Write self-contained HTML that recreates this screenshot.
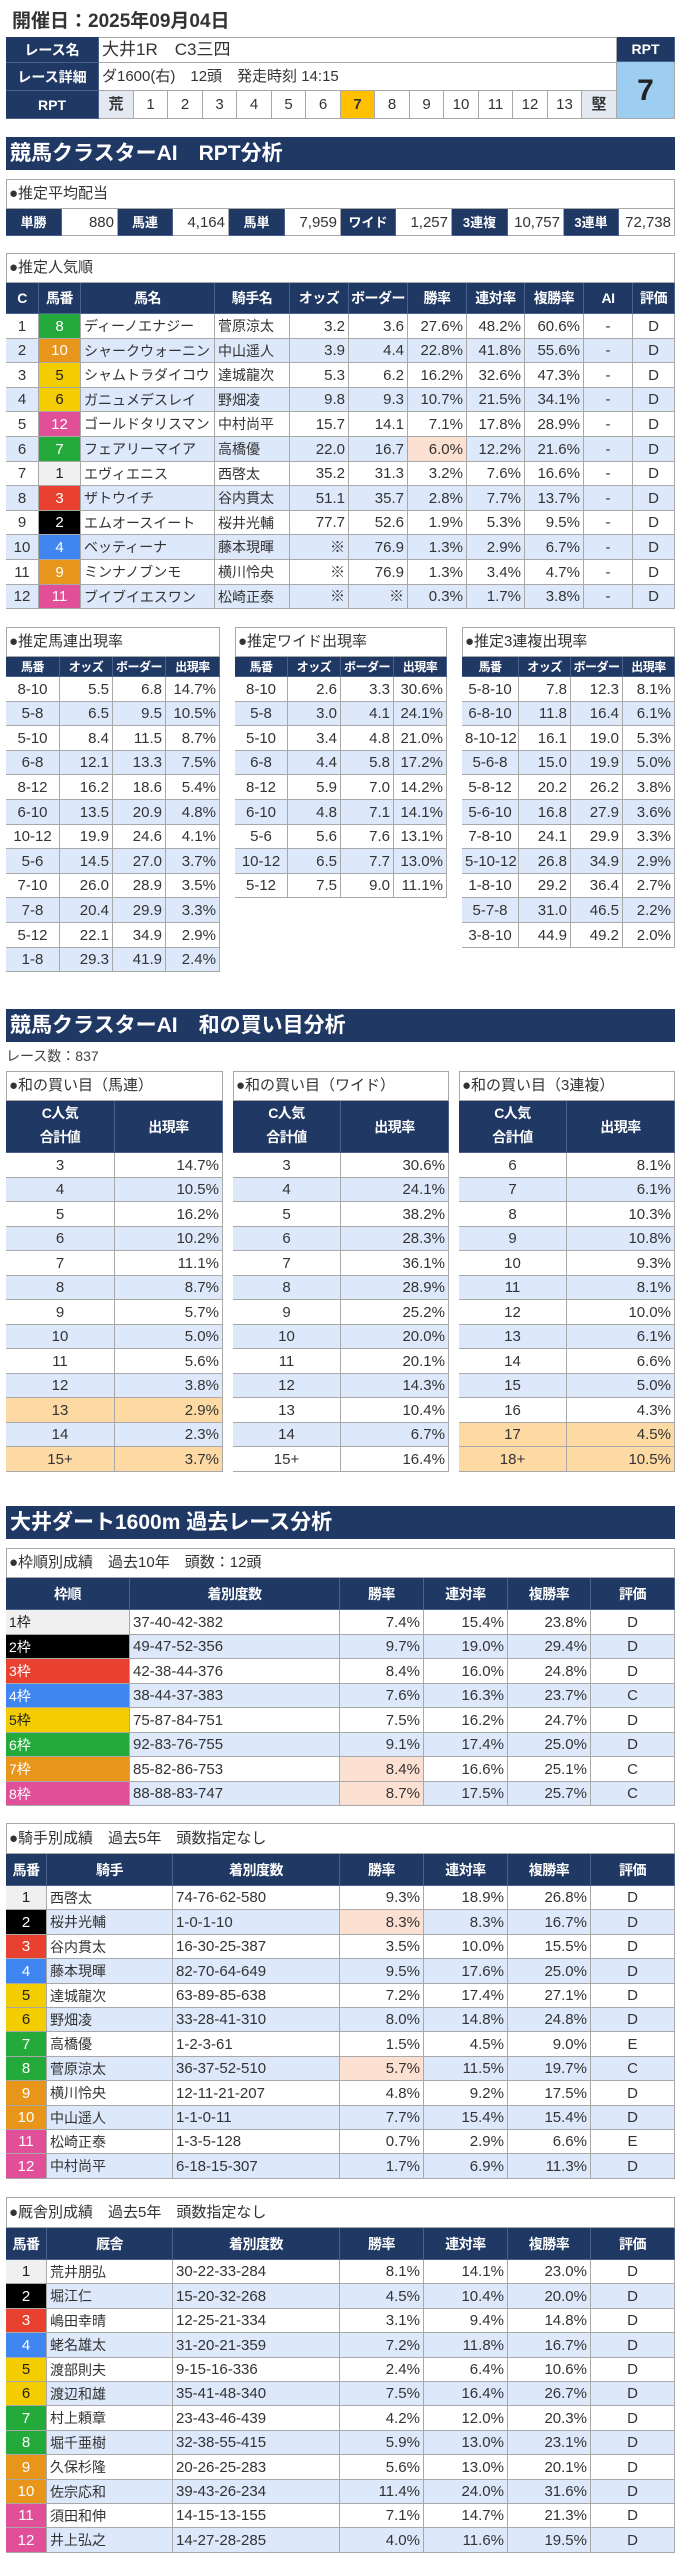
<!DOCTYPE html>
<html><head><meta charset="utf-8">
<style>
html,body{margin:0;padding:0;background:#fff;}
body{width:679px;height:2560px;position:relative;overflow:hidden;font-family:"Liberation Sans","Noto Sans CJK JP",sans-serif;color:#333;}
.c{position:absolute;box-sizing:border-box;border-right:1px solid #a8a8a8;border-bottom:1px solid #a8a8a8;white-space:nowrap;overflow:hidden;padding:0 3px;font-size:15px;}
.bx{position:absolute;box-sizing:border-box;border-left:1px solid #a8a8a8;border-top:1px solid #a8a8a8;}
.bar{position:absolute;left:6px;width:669px;background:#203864;color:#fff;font-weight:bold;font-size:21px;box-sizing:border-box;padding-left:4px;}
</style></head>
<body>
<div style="position:absolute;left:12px;top:6px;font-size:19px;font-weight:bold;color:#333;">開催日：2025年09月04日</div>
<div class="bar" style="top:137px;height:33px;line-height:33px;">競馬クラスターAI　RPT分析</div>
<div class="bar" style="top:1009px;height:33px;line-height:33px;">競馬クラスターAI　和の買い目分析</div>
<div style="position:absolute;left:6px;top:1046px;font-size:14px;color:#444;">レース数：837</div>
<div class="bar" style="top:1506px;height:33px;line-height:33px;">大井ダート1600m 過去レース分析</div>
<script>
var NAVY='#203864',LB='#dde8fb',PE='#fce0d2',OR='#fdd9a3';
var FR={1:['#f0f0f0','#222'],2:['#000','#fff'],3:['#e8412f','#fff'],4:['#3f86f0','#fff'],5:['#f3cd00','#222'],6:['#23aa3b','#fff'],7:['#e8951c','#fff'],8:['#e04f97','#fff']};
var H2F={1:1,2:2,3:3,4:4,5:5,6:5,7:6,8:6,9:7,10:7,11:8,12:8};
var root=document.body;
function cell(x,y,w,h,t,o,name){
  o=o||{};
  var d=document.createElement('div');
  d.className='c';
  
  
  d.style.left=x+'px';d.style.top=y+'px';d.style.width=w+'px';d.style.height=h+'px';
  d.style.lineHeight=(o.lh||h)+'px';
  d.style.textAlign=o.al||'center';
  if(o.bg)d.style.background=o.bg;
  if(o.c)d.style.color=o.c;
  if(o.fs)d.style.fontSize=o.fs+'px';
  if(o.b)d.style.fontWeight='bold';
  if(o.bc)d.style.borderColor=o.bc;
  if(o.np){d.style.padding='0';d.style.letterSpacing='-0.5px';}
  if(o.wrap){d.style.whiteSpace='normal';}
  d.innerHTML=t;
  root.appendChild(d);return d;
}
function box(x,y,w,h,name){
  var d=document.createElement('div');
  d.className='bx';
  
  
  d.style.left=x+'px';d.style.top=y+'px';d.style.width=w+'px';d.style.height=h+'px';
  root.appendChild(d);
}
function titleRow(x0,x1,y,h,t,name){box(x0,y,x1-x0,h,name+'-box');cell(x0,y,x1-x0,h,t,{al:'left',fs:15},name);}
function header(cols,y,h,labels,fs,name){
  for(var i=0;i<labels.length;i++)cell(cols[i],y,cols[i+1]-cols[i],h,labels[i],{bg:NAVY,c:'#fff',b:1,fs:fs||14,bc:'#4a5f8c',wrap:1,np:1,lh:(labels[i].indexOf('<br>')>=0?h/2-2:h)},name+'-header');
}
box(6,37,669,82,'race-info-table');
cell(6,37,93,26,'レース名',{bg:NAVY,c:'#fff',b:1,fs:14,bc:'#4a5f8c'},'race-name-label');
cell(99,37,518,26,'大井1R　C3三四',{al:'left',fs:17},'race-name');
cell(6,63,93,28,'レース詳細',{bg:NAVY,c:'#fff',b:1,fs:14,bc:'#4a5f8c'},'race-detail-label');
cell(99,63,518,28,'ダ1600(右)　12頭　発走時刻 14:15',{al:'left',fs:15},'race-detail');
cell(6,91,93,28,'RPT',{bg:NAVY,c:'#fff',b:1,fs:14,bc:'#4a5f8c'},'rpt-label');
var scale=['荒','1','2','3','4','5','6','7','8','9','10','11','12','13','堅'];
for(var i=0;i<15;i++){
  var bg=(i==0||i==14)?'#e4e8f0':(i==7?'#ffc000':'#fff');
  cell(Math.round(99+i*34.53),91,Math.round(99+(i+1)*34.53)-Math.round(99+i*34.53),28,scale[i],{bg:bg,fs:15,b:(i==7||i==0||i==14)},'rpt-scale-cell');
}
cell(617,37,58,25,'RPT',{bg:NAVY,c:'#fff',b:1,fs:14,bc:'#4a5f8c'},'rpt-value-label');
cell(617,62,58,57,'7',{bg:'#9dcdf1',c:'#222',b:1,fs:30},'rpt-value');
titleRow(6,675,179,30,'●推定平均配当','avg-payout-title');
var pl=['単勝','馬連','馬単','ワイド','3連複','3連単'],pv=['880','4,164','7,959','1,257','10,757','72,738'];
for(var i=0;i<12;i++){
  var x=Math.round(6+i*55.75),w=Math.round(6+(i+1)*55.75)-x;
  if(i%2==0)cell(x,209,w,27,pl[i/2],{bg:NAVY,c:'#fff',b:1,fs:13,bc:'#4a5f8c'},'payout-label');
  else cell(x,209,w,27,pv[(i-1)/2],{al:'right',fs:15},'payout-value');
}
var pop=[[1,8,'ディーノエナジー','菅原涼太','3.2','3.6','27.6%','48.2%','60.6%'],
[2,10,'シャークウォーニン','中山遥人','3.9','4.4','22.8%','41.8%','55.6%'],
[3,5,'シャムトラダイコウ','達城龍次','5.3','6.2','16.2%','32.6%','47.3%'],
[4,6,'ガニュメデスレイ','野畑凌','9.8','9.3','10.7%','21.5%','34.1%'],
[5,12,'ゴールドタリスマン','中村尚平','15.7','14.1','7.1%','17.8%','28.9%'],
[6,7,'フェアリーマイア','高橋優','22.0','16.7','6.0%','12.2%','21.6%'],
[7,1,'エヴィエニス','西啓太','35.2','31.3','3.2%','7.6%','16.6%'],
[8,3,'ザトウイチ','谷内貫太','51.1','35.7','2.8%','7.7%','13.7%'],
[9,2,'エムオースイート','桜井光輔','77.7','52.6','1.9%','5.3%','9.5%'],
[10,4,'ベッティーナ','藤本現暉','※','76.9','1.3%','2.9%','6.7%'],
[11,9,'ミンナノブンモ','横川怜央','※','76.9','1.3%','3.4%','4.7%'],
[12,11,'ブイブイエスワン','松崎正泰','※','※','0.3%','1.7%','3.8%']];
var pc=[6,39,81,215,290,349,408,467,525,584,633,675];
titleRow(6,675,253,30,'●推定人気順','popularity-title');
box(6,283,669,326,'popularity-table');
header(pc,283,31,['C','馬番','馬名','騎手名','オッズ','ボーダー','勝率','連対率','複勝率','AI','評価'],14,'popularity');
for(var r=0;r<12;r++){
  var y=Math.round(314+r*24.6),h=Math.round(314+(r+1)*24.6)-y,bg=r%2?LB:'#fff',d=pop[r],f=FR[H2F[d[1]]];
  cell(pc[0],y,pc[1]-pc[0],h,d[0],{bg:bg},'popularity-rank');
  cell(pc[1],y,pc[2]-pc[1],h,d[1],{bg:f[0],c:f[1]},'horse-number');
  cell(pc[2],y,pc[3]-pc[2],h,d[2],{bg:bg,al:'left',fs:14},'horse-name');
  cell(pc[3],y,pc[4]-pc[3],h,d[3],{bg:bg,al:'left',fs:14},'jockey-name');
  for(var k=4;k<9;k++)cell(pc[k],y,pc[k+1]-pc[k],h,d[k],{bg:(k==6&&r==5)?PE:bg,al:'right'},'popularity-stat');
  cell(pc[9],y,pc[10]-pc[9],h,'-',{bg:bg},'ai-mark');
  cell(pc[10],y,pc[11]-pc[10],h,'D',{bg:bg},'evaluation');
}
function small(cols,title,data,name){
  titleRow(cols[0],cols[4],627,30,title,name+'-title');
  box(cols[0],657,cols[4]-cols[0],20+data.length*24.6,name+'-table');
  header(cols,657,20,['馬番','オッズ','ボーダー','出現率'],12,name);
  for(var r=0;r<data.length;r++){
    var y=Math.round(677+r*24.6),h=Math.round(677+(r+1)*24.6)-y,bg=r%2?LB:'#fff';
    for(var k=0;k<4;k++)cell(cols[k],y,cols[k+1]-cols[k],h,data[r][k],{bg:bg,al:k?'right':'center',fs:15},name+'-cell');
  }
}
small([6,60,113,166,220],'●推定馬連出現率',[['8-10','5.5','6.8','14.7%'],['5-8','6.5','9.5','10.5%'],['5-10','8.4','11.5','8.7%'],['6-8','12.1','13.3','7.5%'],['8-12','16.2','18.6','5.4%'],['6-10','13.5','20.9','4.8%'],['10-12','19.9','24.6','4.1%'],['5-6','14.5','27.0','3.7%'],['7-10','26.0','28.9','3.5%'],['7-8','20.4','29.9','3.3%'],['5-12','22.1','34.9','2.9%'],['1-8','29.3','41.9','2.4%']],'umaren');
small([235,288,341,394,447],'●推定ワイド出現率',[['8-10','2.6','3.3','30.6%'],['5-8','3.0','4.1','24.1%'],['5-10','3.4','4.8','21.0%'],['6-8','4.4','5.8','17.2%'],['8-12','5.9','7.0','14.2%'],['6-10','4.8','7.1','14.1%'],['5-6','5.6','7.6','13.1%'],['10-12','6.5','7.7','13.0%'],['5-12','7.5','9.0','11.1%']],'wide');
small([462,519,571,623,675],'●推定3連複出現率',[['5-8-10','7.8','12.3','8.1%'],['6-8-10','11.8','16.4','6.1%'],['8-10-12','16.1','19.0','5.3%'],['5-6-8','15.0','19.9','5.0%'],['5-8-12','20.2','26.2','3.8%'],['5-6-10','16.8','27.9','3.6%'],['7-8-10','24.1','29.9','3.3%'],['5-10-12','26.8','34.9','2.9%'],['1-8-10','29.2','36.4','2.7%'],['5-7-8','31.0','46.5','2.2%'],['3-8-10','44.9','49.2','2.0%']],'trio');
function sum(x0,xm,x1,title,data,hl,name){
  titleRow(x0,x1,1071,30,title,name+'-title');
  box(x0,1101,x1-x0,52+13*24.5,name+'-table');
  header([x0,xm,x1],1101,52,['C人気<br>合計値','出現率'],14,name);
  for(var r=0;r<data.length;r++){
    var y=Math.round(1153+r*24.5),h=Math.round(1153+(r+1)*24.5)-y,bg=hl.indexOf(r)>=0?OR:(r%2?LB:'#fff');
    cell(x0,y,xm-x0,h,data[r][0],{bg:bg},name+'-sum');
    cell(xm,y,x1-xm,h,data[r][1],{bg:bg,al:'right'},name+'-rate');
  }
}
sum(6,115,223,'●和の買い目（馬連）',[['3','14.7%'],['4','10.5%'],['5','16.2%'],['6','10.2%'],['7','11.1%'],['8','8.7%'],['9','5.7%'],['10','5.0%'],['11','5.6%'],['12','3.8%'],['13','2.9%'],['14','2.3%'],['15+','3.7%']],[10,12],'sum-umaren');
sum(233,341,449,'●和の買い目（ワイド）',[['3','30.6%'],['4','24.1%'],['5','38.2%'],['6','28.3%'],['7','36.1%'],['8','28.9%'],['9','25.2%'],['10','20.0%'],['11','20.1%'],['12','14.3%'],['13','10.4%'],['14','6.7%'],['15+','16.4%']],[],'sum-wide');
sum(459,567,675,'●和の買い目（3連複）',[['6','8.1%'],['7','6.1%'],['8','10.3%'],['9','10.8%'],['10','9.3%'],['11','8.1%'],['12','10.0%'],['13','6.1%'],['14','6.6%'],['15','5.0%'],['16','4.3%'],['17','4.5%'],['18+','10.5%']],[11,12],'sum-trio');
var fc=[6,130,340,424,508,591,675];
titleRow(6,675,1548,30,'●枠順別成績　過去10年　頭数：12頭','frame-title');
var fd=[['37-40-42-382','7.4%','15.4%','23.8%','D'],['49-47-52-356','9.7%','19.0%','29.4%','D'],['42-38-44-376','8.4%','16.0%','24.8%','D'],['38-44-37-383','7.6%','16.3%','23.7%','C'],['75-87-84-751','7.5%','16.2%','24.7%','D'],['92-83-76-755','9.1%','17.4%','25.0%','D'],['85-82-86-753','8.4%','16.6%','25.1%','C'],['88-88-83-747','8.7%','17.5%','25.7%','C']];
box(6,1578,669,32+8*24.5,'frame-table');
header(fc,1578,32,['枠順','着別度数','勝率','連対率','複勝率','評価'],14,'frame');
for(var r=0;r<8;r++){
  var y=Math.round(1610+r*24.5),h=Math.round(1610+(r+1)*24.5)-y,bg=r%2?LB:'#fff',f=FR[r+1];
  cell(fc[0],y,fc[1]-fc[0],h,(r+1)+'枠',{bg:f[0],c:f[1],al:'left',fs:14},'frame-label');
  cell(fc[1],y,fc[2]-fc[1],h,fd[r][0],{bg:bg,al:'left'},'frame-record');
  for(var k=1;k<4;k++)cell(fc[k+1],y,fc[k+2]-fc[k+1],h,fd[r][k],{bg:(k==1&&r>=6)?PE:bg,al:'right'},'frame-rate');
  cell(fc[5],y,fc[6]-fc[5],h,fd[r][4],{bg:bg},'frame-eval');
}
var jc=[6,47,173,340,424,508,591,675];
function person(top,title,col2,data,pk,name){
  titleRow(6,675,top,31,title,name+'-title');
  box(6,top+31,669,32+12*24.4,name+'-table');
  header(jc,top+31,32,['馬番',col2,'着別度数','勝率','連対率','複勝率','評価'],14,name);
  for(var r=0;r<12;r++){
    var y=Math.round(top+63+r*24.4),h=Math.round(top+63+(r+1)*24.4)-y,bg=r%2?LB:'#fff',f=FR[H2F[r+1]],d=data[r];
    cell(jc[0],y,jc[1]-jc[0],h,r+1,{bg:f[0],c:f[1]},'horse-number');
    cell(jc[1],y,jc[2]-jc[1],h,d[0],{bg:bg,al:'left',fs:14},name+'-name');
    cell(jc[2],y,jc[3]-jc[2],h,d[1],{bg:bg,al:'left'},name+'-record');
    for(var k=2;k<5;k++)cell(jc[k+1],y,jc[k+2]-jc[k+1],h,d[k],{bg:(k==2&&pk.indexOf(r)>=0)?PE:bg,al:'right'},name+'-rate');
    cell(jc[6],y,jc[7]-jc[6],h,d[5],{bg:bg},name+'-eval');
  }
}
person(1823,'●騎手別成績　過去5年　頭数指定なし','騎手',[['西啓太','74-76-62-580','9.3%','18.9%','26.8%','D'],['桜井光輔','1-0-1-10','8.3%','8.3%','16.7%','D'],['谷内貫太','16-30-25-387','3.5%','10.0%','15.5%','D'],['藤本現暉','82-70-64-649','9.5%','17.6%','25.0%','D'],['達城龍次','63-89-85-638','7.2%','17.4%','27.1%','D'],['野畑凌','33-28-41-310','8.0%','14.8%','24.8%','D'],['高橋優','1-2-3-61','1.5%','4.5%','9.0%','E'],['菅原涼太','36-37-52-510','5.7%','11.5%','19.7%','C'],['横川怜央','12-11-21-207','4.8%','9.2%','17.5%','D'],['中山遥人','1-1-0-11','7.7%','15.4%','15.4%','D'],['松崎正泰','1-3-5-128','0.7%','2.9%','6.6%','E'],['中村尚平','6-18-15-307','1.7%','6.9%','11.3%','D']],[1,7],'jockey');
person(2197,'●厩舎別成績　過去5年　頭数指定なし','厩舎',[['荒井朋弘','30-22-33-284','8.1%','14.1%','23.0%','D'],['堀江仁','15-20-32-268','4.5%','10.4%','20.0%','D'],['嶋田幸晴','12-25-21-334','3.1%','9.4%','14.8%','D'],['蛯名雄太','31-20-21-359','7.2%','11.8%','16.7%','D'],['渡部則夫','9-15-16-336','2.4%','6.4%','10.6%','D'],['渡辺和雄','35-41-48-340','7.5%','16.4%','26.7%','D'],['村上頼章','23-43-46-439','4.2%','12.0%','20.3%','D'],['堀千亜樹','32-38-55-415','5.9%','13.0%','23.1%','D'],['久保杉隆','20-26-25-283','5.6%','13.0%','20.1%','D'],['佐宗応和','39-43-26-234','11.4%','24.0%','31.6%','D'],['須田和伸','14-15-13-155','7.1%','14.7%','21.3%','D'],['井上弘之','14-27-28-285','4.0%','11.6%','19.5%','D']],[],'trainer');
</script>
</body></html>
